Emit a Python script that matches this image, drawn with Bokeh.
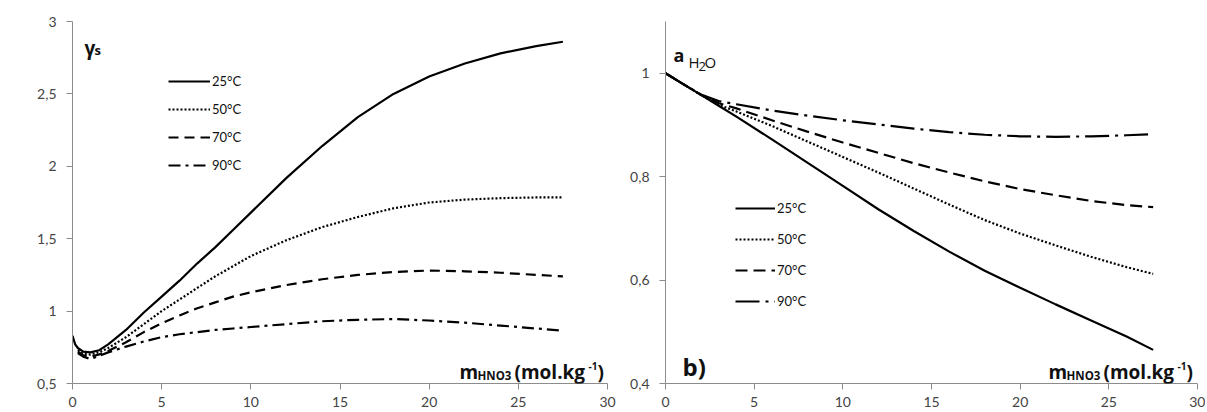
from bokeh.plotting import figure
from bokeh.layouts import row
from bokeh.models import Legend, LegendItem, Label, FixedTicker
from bokeh.embed import file_html
from bokeh.resources import INLINE

# ---------------- data ----------------
temps = ["25°C", "50°C", "70°C", "90°C"]

# panel a) : gamma_s vs m_HNO3
xa_25 = [0, 0.15, 0.3, 0.6, 1, 1.5, 2, 3, 4, 5, 6, 7, 8, 9, 10, 12, 14, 16, 18, 20, 22, 24, 26, 27.5]
ga_25 = [0.83, 0.77, 0.745, 0.72, 0.715, 0.73, 0.77, 0.87, 0.99, 1.10, 1.21, 1.33, 1.44, 1.56, 1.68,
         1.92, 2.14, 2.34, 2.50, 2.62, 2.71, 2.78, 2.83, 2.86]
xa_hot = [0.3, 0.6, 1, 1.5, 2, 3, 4, 5, 6, 7, 8, 9, 10, 12, 14, 16, 18, 20, 22, 24, 26, 27.5]
ga_50 = [0.73, 0.705, 0.70, 0.715, 0.745, 0.82, 0.91, 1.0, 1.08, 1.16, 1.24, 1.31, 1.38,
         1.49, 1.58, 1.65, 1.71, 1.75, 1.77, 1.78, 1.785, 1.785]
ga_70 = [0.72, 0.695, 0.685, 0.70, 0.725, 0.785, 0.855, 0.915, 0.97, 1.02, 1.06, 1.10, 1.13,
         1.18, 1.22, 1.25, 1.27, 1.28, 1.275, 1.265, 1.25, 1.24]
ga_90 = [0.71, 0.685, 0.67, 0.69, 0.715, 0.755, 0.79, 0.82, 0.84, 0.855, 0.87, 0.88, 0.89,
         0.91, 0.93, 0.94, 0.945, 0.935, 0.92, 0.90, 0.88, 0.865]

# panel b) : a_H2O vs m_HNO3
xb = [0, 1, 2, 3, 4, 6, 8, 10, 12, 14, 16, 18, 20, 22, 24, 26, 27.5]
aw_25 = [1.0, 0.979, 0.958, 0.937, 0.916, 0.872, 0.827, 0.782, 0.737, 0.695, 0.655, 0.618,
         0.585, 0.553, 0.522, 0.491, 0.465]
aw_50 = [1.0, 0.979, 0.958, 0.939, 0.926, 0.898, 0.868, 0.838, 0.808, 0.777, 0.746, 0.716,
         0.69, 0.667, 0.645, 0.625, 0.612]
aw_70 = [1.0, 0.979, 0.958, 0.942, 0.932, 0.909, 0.887, 0.866, 0.846, 0.826, 0.808, 0.791,
         0.776, 0.764, 0.753, 0.745, 0.741]
aw_90 = [1.0, 0.979, 0.959, 0.946, 0.940, 0.928, 0.918, 0.909, 0.901, 0.893, 0.886, 0.881,
         0.878, 0.877, 0.878, 0.880, 0.882]

xticks = [0, 5, 10, 15, 20, 25, 30]
ya_ticks = [0.5, 1, 1.5, 2, 2.5, 3]
ya_labels = ["0,5", "1", "1,5", "2", "2,5", "3"]
yb_ticks = [0.4, 0.6, 0.8, 1.0]
yb_labels = ["0,4", "0,6", "0,8", "1"]

FONT = "Lato"
TFONT = "Open Sans"
AXIS_COL = "#8c8c8c"
TICK_TXT = "#444444"


def style(p, yticks, ylabels):
    p.xaxis.ticker = FixedTicker(ticks=xticks)
    p.yaxis.ticker = FixedTicker(ticks=yticks)
    p.yaxis.major_label_overrides = {t: l for t, l in zip(yticks, ylabels)}
    for ax in (p.xaxis, p.yaxis):
        ax.axis_line_color = AXIS_COL
        ax.major_tick_line_color = AXIS_COL
        ax.major_tick_out = 6
        ax.major_tick_in = 0
        ax.minor_tick_line_color = None
        ax.major_label_text_font = FONT
        ax.major_label_text_font_size = "14px"
        ax.major_label_text_color = TICK_TXT
    p.xaxis.major_label_standoff = 7
    p.yaxis.major_label_standoff = 10
    p.xgrid.visible = False
    p.ygrid.visible = False
    p.outline_line_color = None
    p.background_fill_color = "white"
    p.border_fill_color = "white"


def lbl(p, x, y, text, size, bold=True, font=TFONT, color="#111111"):
    p.add_layout(Label(x=x, y=y, x_units="screen", y_units="screen", text=text,
                       text_font=font, text_font_size=f"{size}px",
                       text_font_style="bold" if bold else "normal",
                       text_color=color, text_align="left", text_baseline="alphabetic"))


def xtitle(p, x0):
    lbl(p, x0, 12, "m", 19)
    lbl(p, x0 + 18, 8, "HNO3", 11.5)
    lbl(p, x0 + 55, 12, "(mol.kg", 19)
    lbl(p, x0 + 129, 18, "-1", 10)
    lbl(p, x0 + 138, 12, ")", 19)


# ---------------- panel a ----------------
p1 = figure(width=618, height=412, x_range=(0, 30), y_range=(0.5, 3),
            output_backend="svg", toolbar_location=None,
            min_border_left=72, min_border_right=11, min_border_top=21, min_border_bottom=29)
style(p1, ya_ticks, ya_labels)

r1 = p1.line(xa_25, ga_25, line_color="black", line_width=2.2)
r2 = p1.line(xa_hot, ga_50, line_color="black", line_width=2.2, line_dash="2 2")
r3 = p1.line(xa_hot, ga_70, line_color="black", line_width=2.2, line_dash="10 6")
r4 = p1.line(xa_hot, ga_90, line_color="black", line_width=2.2, line_dash="12 5 3 5")

leg1 = Legend(items=[LegendItem(label=t, renderers=[r]) for t, r in zip(temps, [r1, r2, r3, r4])],
              location=(96, 208), glyph_width=42, glyph_height=20, label_height=20,
              spacing=8, padding=0, margin=0, label_standoff=2,
              label_text_font=FONT, label_text_font_size="13px", label_text_color="#111111",
              border_line_color=None, background_fill_alpha=0)
p1.add_layout(leg1)

lbl(p1, 12, 336, "γ", 19)
lbl(p1, 22, 334, "s", 13)
lbl(p1, -60, 25, "a)", 24)
xtitle(p1, 387)

# ---------------- panel b ----------------
p2 = figure(width=587, height=412, x_range=(0, 30), y_range=(0.4, 1.1),
            output_backend="svg", toolbar_location=None,
            min_border_left=47, min_border_right=8, min_border_top=21, min_border_bottom=29)
style(p2, yb_ticks, yb_labels)

s1 = p2.line(xb, aw_25, line_color="black", line_width=2.2)
s2 = p2.line(xb, aw_50, line_color="black", line_width=2.2, line_dash="2 2")
s3 = p2.line(xb, aw_70, line_color="black", line_width=2.2, line_dash="12 6")
s4 = p2.line(xb, aw_90, line_color="black", line_width=2.2, line_dash="24 6 3 6")

leg2 = Legend(items=[LegendItem(label=t, renderers=[r]) for t, r in zip(temps, [s1, s2, s3, s4])],
              location=(70, 72), glyph_width=40, glyph_height=20, label_height=20,
              spacing=11, padding=0, margin=0, label_standoff=2,
              label_text_font=FONT, label_text_font_size="13px", label_text_color="#111111",
              border_line_color=None, background_fill_alpha=0)
p2.add_layout(leg2)

lbl(p2, 8, 329, "a", 18)
lbl(p2, 23, 322, "H", 15, bold=False)
lbl(p2, 33, 317, "2", 13, bold=False)
lbl(p2, 39, 322, "O", 15, bold=False)
lbl(p2, 17, 17, "b)", 24)
xtitle(p2, 383)

layout = row(p1, p2)
open("out.html", "w").write(file_html(layout, INLINE))
